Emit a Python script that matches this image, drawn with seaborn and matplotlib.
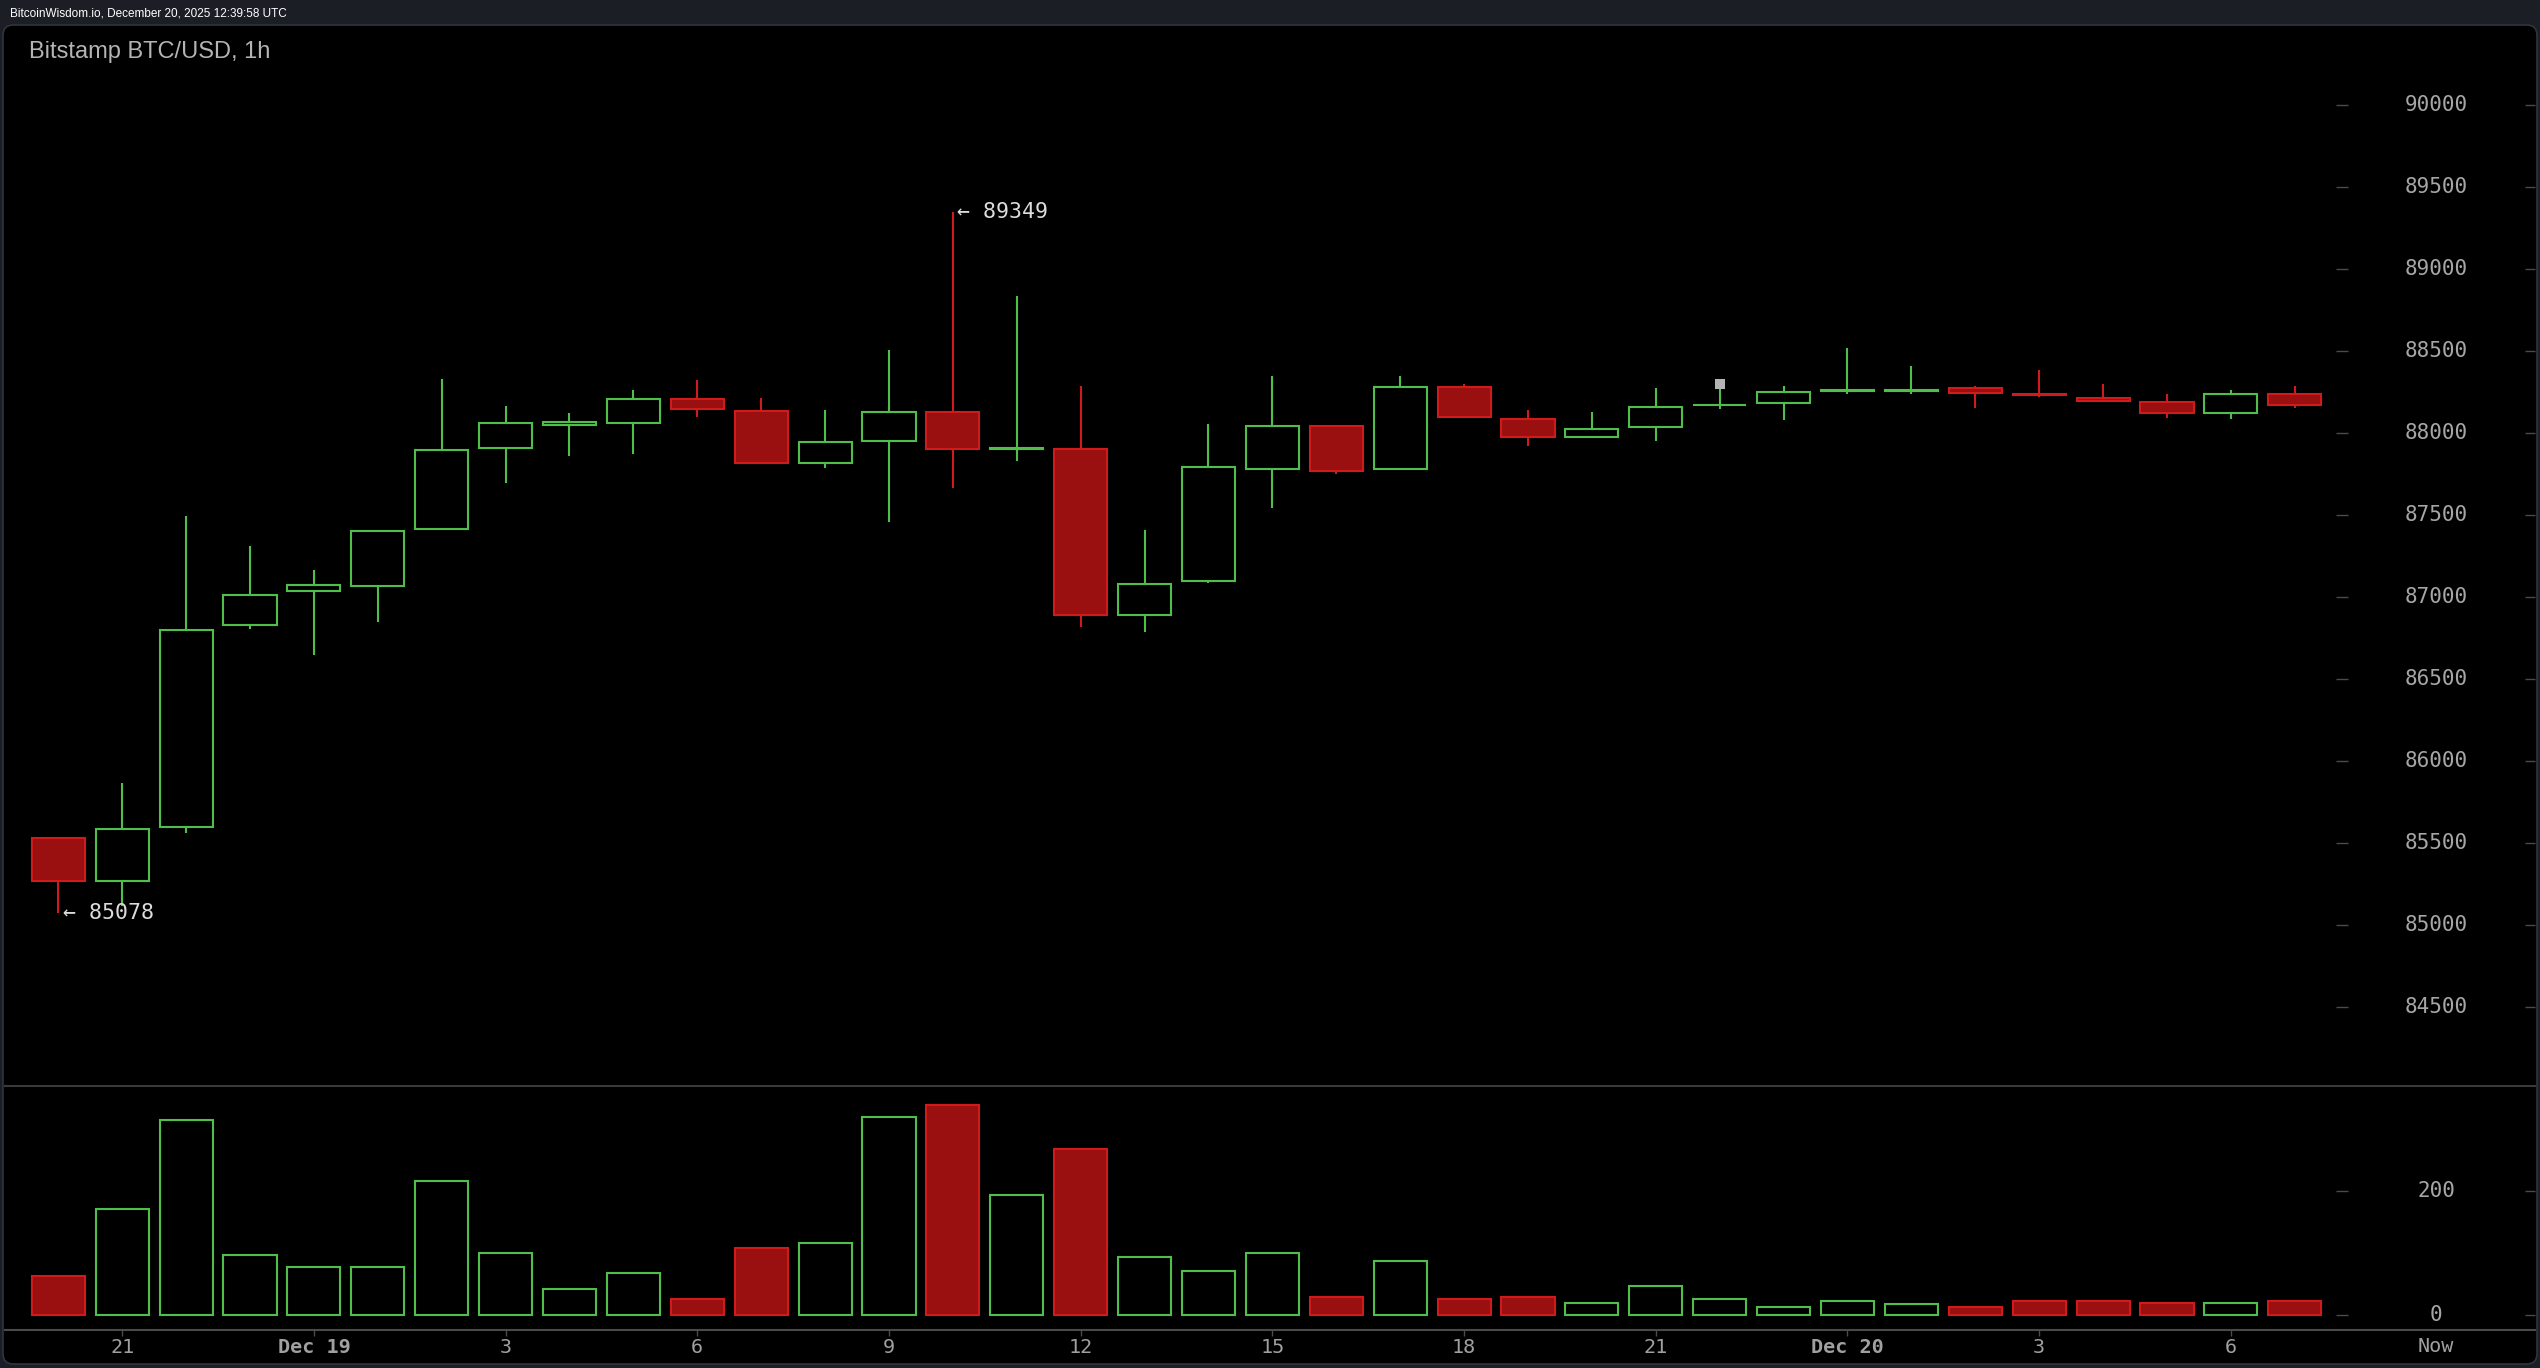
import matplotlib
matplotlib.use('Agg')
import matplotlib.pyplot as plt
from matplotlib.patches import FancyBboxPatch
import seaborn as sns
import numpy as np
import pandas as pd

# Bitstamp BTC/USD hourly candles, Dec 18 20:00 -> Dec 20 07:00
hours = list(range(36))
opens = [85530, 85270, 85600, 86830, 87040, 87065, 87415, 87910, 88050, 88062,
         88210, 88137, 87817, 87950, 88125, 87900, 87905, 86890, 87096, 87780,
         88040, 87780, 88283, 88088, 87975, 88036, 88168, 88182, 88255, 88255,
         88273, 88236, 88215, 88186, 88121, 88235]
highs = [85540, 85865, 87495, 87310, 87165, 87410, 88330, 88167, 88120, 88260,
         88323, 88212, 88141, 88505, 89349, 88835, 88285, 87410, 88056, 88347,
         88045, 88347, 88297, 88139, 88129, 88272, 88297, 88284, 88520, 88409,
         88287, 88385, 88300, 88237, 88263, 88287]
lows = [85078, 85115, 85565, 86805, 86645, 86850, 87410, 87695, 87860, 87875,
        88095, 87810, 87789, 87460, 87667, 87827, 86815, 86790, 87083, 87545,
        87752, 87775, 88090, 87923, 87970, 87949, 88144, 88079, 88238, 88238,
        88155, 88219, 88190, 88094, 88085, 88155]
closes = [85270, 85590, 86800, 87015, 87075, 87405, 87895, 88060, 88065, 88210,
          88145, 87817, 87943, 88125, 87900, 87908, 86890, 87077, 87795, 88040,
          87767, 88283, 88096, 87975, 88026, 88161, 88172, 88248, 88259, 88259,
          88241, 88230, 88192, 88121, 88235, 88170]
volumes = [62, 171, 313, 97, 78, 78, 216, 100, 42, 68,
           26, 107, 116, 319, 338, 193, 267, 94, 71, 100,
           29, 87, 26, 29, 20, 46, 26, 13, 23, 17,
           13, 23, 23, 20, 20, 23]

tick_pos = [1, 4, 7, 10, 13, 16, 19, 22, 25, 28, 31, 34]
tick_labels = ['21', 'Dec 19', '3', '6', '9', '12', '15', '18', '21', 'Dec 20', '3', '6']
price_ticks = list(range(84500, 90001, 500))
volume_ticks = [0, 200]
now_pos = 37.2
marker_idx = 26

stamp = 'BitcoinWisdom.io, December 20, 2025 12:39:58 UTC'
title = 'Bitstamp BTC/USD, 1h'

df = pd.DataFrame({'hour': hours, 'open': opens, 'high': highs, 'low': lows,
                   'close': closes, 'volume': volumes})
df['up'] = df['close'] >= df['open']

GREEN = '#4fbf4a'
RED_FACE = '#9a0f0f'
RED_EDGE = '#cf1b1b'
TICK = '#4a4a4a'
LABEL = '#a6a6a6'
MONO = ['DejaVu Sans Mono']
BODY_W = 0.83

sns.set_theme(style='dark')
plt.rcParams['font.family'] = ['Liberation Sans', 'DejaVu Sans']

W, H = 2540, 1368
fig = plt.figure(figsize=(W / 100, H / 100), dpi=100)
fig.patch.set_facecolor('#1b1e25')

panel = FancyBboxPatch((3 / W, 4 / H), 2534 / W, 1339 / H,
                       boxstyle='round,pad=0,rounding_size=0.004',
                       mutation_aspect=W / H, transform=fig.transFigure,
                       facecolor='black', edgecolor='#30343c', lw=1.2, zorder=-5)
fig.patches.append(panel)

# ---- price panel
ax = fig.add_axes([5 / W, 282 / H, 2530 / W, 1061 / H])
ax.set_facecolor('none')

edge = np.where(df['up'], GREEN, RED_EDGE)
face = np.where(df['up'], 'black', RED_FACE)
body_lo = np.minimum(df['open'], df['close'])
body_h = np.maximum(np.abs(df['close'] - df['open']), 1)

ax.vlines(df['hour'], df['low'], df['high'], colors=edge, lw=1.5, zorder=1)
ax.bar(df['hour'], body_h, bottom=body_lo, width=BODY_W, color=face,
       edgecolor=edge, linewidth=1.5, zorder=2)

ax.scatter(marker_idx, df['high'][marker_idx], marker='s', s=50,
           color='#b4b4b4', zorder=3, linewidths=0)

lo_i = int(df['low'].idxmin())
hi_i = int(df['high'].idxmax())
ax.text(lo_i + 0.07, df['low'][lo_i], f"\u2190 {df['low'][lo_i]}", color='#dcdcdc',
        fontsize=15.5, family=MONO, ha='left', va='center')
ax.text(hi_i + 0.06, df['high'][hi_i], f"\u2190 {df['high'][hi_i]}", color='#dcdcdc',
        fontsize=15.5, family=MONO, ha='left', va='center')

ax.set_xlim(-0.834, 38.759)
ax.set_ylim(84021, 90486)
for s in ax.spines.values():
    s.set_visible(False)
ax.set_xticks([])
ax.yaxis.tick_right()
ax.set_yticks(price_ticks, [str(p) for p in price_ticks])
ax.tick_params(axis='y', direction='in', length=7.5, width=1, color=TICK,
               pad=-71.3, labelsize=15, labelcolor=LABEL)
plt.setp(ax.get_yticklabels(), ha='center', va='center', family=MONO)
ax.hlines(price_ticks, 0.9213, 0.9261, transform=ax.get_yaxis_transform(),
          colors=TICK, lw=1)
ax.grid(False)

# ---- volume panel
axv = fig.add_axes([5 / W, 38 / H, 2530 / W, 244 / H])
axv.set_facecolor('none')
sns.barplot(x=df['hour'], y=df['volume'], native_scale=True, width=BODY_W,
            errorbar=None, color=GREEN, ax=axv)
for patch, up in zip(axv.patches, df['up']):
    patch.set_facecolor('black' if up else RED_FACE)
    patch.set_edgecolor(GREEN if up else RED_EDGE)
    patch.set_linewidth(1.5)

axv.set_xlim(-0.834, 38.759)
axv.set_ylim(-24.1, 368.3)
axv.set_xlabel('')
axv.set_ylabel('')
axv.grid(False)
for side in ['left', 'right']:
    axv.spines[side].set_visible(False)
axv.spines['top'].set_color('#3a3a3a')
axv.spines['top'].set_linewidth(1.5)
axv.spines['bottom'].set_color('#4a4a4a')
axv.spines['bottom'].set_linewidth(1.5)

axv.set_xticks(tick_pos, tick_labels)
axv.tick_params(axis='x', direction='out', length=4, width=1, color=TICK,
                labelsize=14.5, labelcolor='#a0a0a0', pad=1.5, bottom=True)
for lab in axv.get_xticklabels():
    lab.set_family(MONO)
    if lab.get_text().startswith('Dec'):
        lab.set_fontweight('bold')
axv.text(now_pos, -16 / 244, 'Now', transform=axv.get_xaxis_transform(),
         ha='center', va='center', fontsize=14.5, color='#a0a0a0', family=MONO)

axv.yaxis.tick_right()
axv.set_yticks(volume_ticks, [str(v) for v in volume_ticks])
axv.tick_params(axis='y', direction='in', length=7.5, width=1, color=TICK,
                pad=-71.3, labelsize=15, labelcolor=LABEL, right=True)
plt.setp(axv.get_yticklabels(), ha='center', va='center', family=MONO)
axv.hlines(volume_ticks, 0.9213, 0.9261, transform=axv.get_yaxis_transform(),
           colors=TICK, lw=1)

# ---- header texts
fig.text(10 / W, 1 - 14 / H, stamp, color='white', fontsize=8.5,
         ha='left', va='center')
fig.text(29 / W, 1 - 52 / H, title, color='#b4b4b4', fontsize=17,
         ha='left', va='center')

fig.savefig('out.png', dpi=100, facecolor=fig.get_facecolor())
